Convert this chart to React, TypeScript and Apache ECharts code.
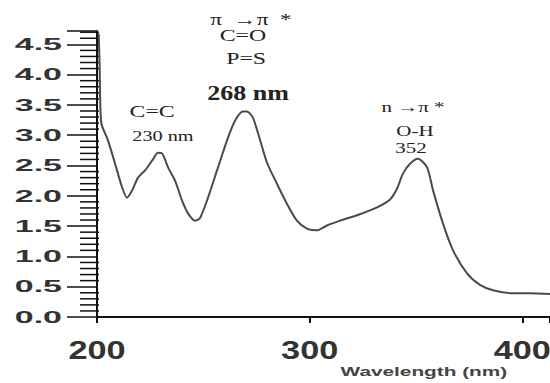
import React, { useEffect, useRef } from "react";
import * as echarts from "echarts";

const wavelengths = [
  200.8, 201.2, 201.5, 202.1, 205.2, 208.5, 211.8, 214.1, 216.5, 219.3, 222.6, 225.9, 228.7, 230.6,
  233.4, 236.7, 240.0, 242.8, 246.1, 248.4, 252.2, 256.9, 261.6, 264.9, 268.6, 270.5, 273.3, 276.6,
  279.9, 284.6, 289.3, 294.0, 298.7, 303.4, 308.1, 314.3, 322.3, 331.7, 337.8, 341.1, 343.9, 347.2,
  350.9, 355.2, 358.0, 362.7, 367.4, 374.0, 380.1, 386.2, 395.6, 403.6, 413.0,
];
const absorbance = [
  4.68, 4.2, 3.6, 3.19, 2.91, 2.53, 2.14, 1.97, 2.09, 2.3, 2.42, 2.58, 2.71, 2.7,
  2.47, 2.25, 1.92, 1.71, 1.59, 1.63, 1.97, 2.47, 2.96, 3.24, 3.39, 3.39, 3.29, 2.93,
  2.55, 2.2, 1.87, 1.59, 1.46, 1.43, 1.51, 1.59, 1.68, 1.81, 1.94, 2.12, 2.37, 2.53,
  2.61, 2.47, 2.09, 1.54, 1.1, 0.72, 0.53, 0.44, 0.39, 0.39, 0.38,
];

const yTickValues = [0, 0.5, 1, 1.5, 2, 2.5, 3, 3.5, 4, 4.5];
const yTickLabels = ["0.0", "0.5", "1.0", "1.5", "2.0", "2.5", "3.0", "3.5", "4.0", "4.5"];
const yMinorValues = [
  0.1, 0.2, 0.3, 0.4, 0.6, 0.7, 0.8, 0.9, 1.1, 1.2, 1.3, 1.4, 1.6, 1.7, 1.8, 1.9, 2.1, 2.2, 2.3, 2.4,
  2.6, 2.7, 2.8, 2.9, 3.1, 3.2, 3.3, 3.4, 3.6, 3.7, 3.8, 3.9, 4.1, 4.2, 4.3, 4.4, 4.6, 4.7,
];
const xTickValues = [200, 300, 400];
const xTickLabels = ["200", "300", "400"];
const xAxisTitle = "Wavelength (nm)";

const annotationTexts = ["π  →π  *", "C=O", "P=S", "268 nm", "C=C", "230 nm", "n →π *", "O-H", "352"];
// anchor of each annotation in data coordinates [wavelength, absorbance]
const annotationAnchors: [number, number][] = [
  [272.4, 4.91],
  [268.6, 4.65],
  [270.1, 4.27],
  [271.0, 3.7],
  [225.9, 3.39],
  [231.0, 2.99],
  [348.6, 3.47],
  [349.5, 3.07],
  [347.6, 2.79],
];
const annotationStyles = [
  { size: 16, weight: "normal", scale: 1.45 },
  { size: 17, weight: "normal", scale: 1.4 },
  { size: 17, weight: "normal", scale: 1.4 },
  { size: 20, weight: "bold", scale: 1.3 },
  { size: 17, weight: "normal", scale: 1.4 },
  { size: 15, weight: "normal", scale: 1.35 },
  { size: 15, weight: "normal", scale: 1.4 },
  { size: 15, weight: "normal", scale: 1.4 },
  { size: 15, weight: "normal", scale: 1.4 },
];

export default function App() {
  const ref = useRef<HTMLDivElement>(null);
  useEffect(() => {
    if (!ref.current) return;
    const chart = echarts.init(ref.current, null, { renderer: "svg" });
    const yMax = 4.72;
    chart.setOption({
      animation: false,
      backgroundColor: "#ffffff",
      grid: { left: 97, right: 0, top: 31, bottom: 66, containLabel: false },
      xAxis: {
        type: "value",
        min: 200,
        max: 413,
        interval: 100,
        axisLine: { show: true, lineStyle: { color: "#111", width: 2 } },
        axisTick: { show: true, length: 6, lineStyle: { color: "#111", width: 2 } },
        axisLabel: { show: false },
        splitLine: { show: false },
      },
      yAxis: {
        type: "value",
        min: 0,
        max: yMax,
        interval: 0.5,
        axisLine: { show: true, lineStyle: { color: "#111", width: 2 } },
        axisTick: { show: true, length: 30, lineStyle: { color: "#111", width: 1.5 } },
        axisLabel: { show: false },
        splitLine: { show: false },
      },
      series: [
        {
          type: "line",
          data: wavelengths.map((w, i) => [w, absorbance[i]]),
          showSymbol: false,
          smooth: 0.25,
          lineStyle: { color: "#4a4a4a", width: 2 },
        },
        {
          type: "custom",
          coordinateSystem: "cartesian2d",
          clip: false,
          silent: true,
          data: yMinorValues.map((v) => [200, v]),
          renderItem: (_params: any, api: any) => {
            const p = api.coord([api.value(0), api.value(1)]);
            return {
              type: "rect",
              shape: { x: p[0] - 17, y: p[1] - 0.75, width: 19, height: 1.5 },
              style: { fill: "#111" },
            };
          },
        },
      ],
    });

    const graphics: any[] = [];
    const yAxisX = chart.convertToPixel({ xAxisIndex: 0 }, 200) as number;
    const xAxisY = chart.convertToPixel({ yAxisIndex: 0 }, 0) as number;
    yTickValues.forEach((v, i) => {
      const py = chart.convertToPixel({ yAxisIndex: 0 }, v) as number;
      graphics.push({
        type: "text",
        x: yAxisX - 35,
        y: py,
        scaleX: 2.0,
        style: {
          text: yTickLabels[i],
          fontFamily: "Liberation Sans",
          fontWeight: "bold",
          fontSize: 17,
          fill: "#333",
          align: "right",
          verticalAlign: "middle",
        },
      });
    });
    xTickValues.forEach((v, i) => {
      const px = chart.convertToPixel({ xAxisIndex: 0 }, v) as number;
      graphics.push({
        type: "text",
        x: px,
        y: xAxisY + 33,
        scaleX: 1.37,
        style: {
          text: xTickLabels[i],
          fontFamily: "Liberation Sans",
          fontWeight: "bold",
          fontSize: 25,
          fill: "#333",
          align: "center",
          verticalAlign: "middle",
        },
      });
    });
    const titleX = chart.convertToPixel({ xAxisIndex: 0 }, 353.7) as number;
    graphics.push({
      type: "text",
      x: titleX,
      y: xAxisY + 55,
      scaleX: 1.6,
      style: {
        text: xAxisTitle,
        fontFamily: "Liberation Sans",
        fontWeight: "bold",
        fontSize: 13,
        fill: "#444",
        align: "center",
        verticalAlign: "middle",
      },
    });
    annotationTexts.forEach((t, i) => {
      const p = chart.convertToPixel({ gridIndex: 0 }, annotationAnchors[i]) as number[];
      const s = annotationStyles[i];
      graphics.push({
        type: "text",
        x: p[0],
        y: p[1],
        scaleX: s.scale,
        style: {
          text: t,
          fontFamily: "Liberation Serif",
          fontWeight: s.weight,
          fontSize: s.size,
          fill: "#222",
          align: "center",
          verticalAlign: "middle",
        },
      });
    });
    chart.setOption({ graphic: graphics });

    return () => chart.dispose();
  }, []);
  return <div ref={ref} style={{ position: "fixed", left: 0, top: 0, width: 550, height: 383 }} />;
}
